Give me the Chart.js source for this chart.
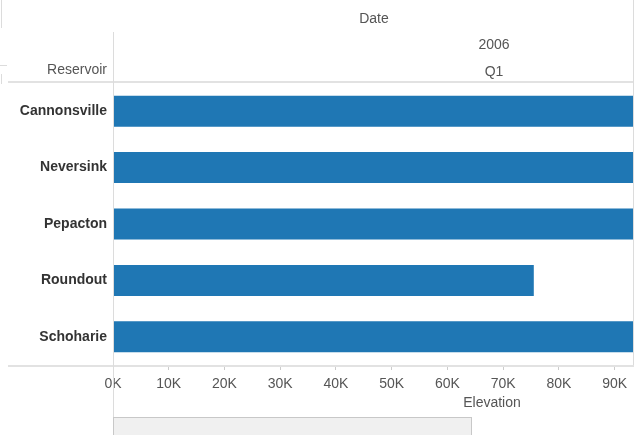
<!DOCTYPE html>
<html>
<head>
<meta charset="utf-8">
<script src="https://cdn.jsdelivr.net/npm/chart.js@4/dist/chart.umd.min.js"></script>
<style>
  html, body { margin: 0; padding: 0; background: #fff; }
  #wrap { width: 640px; height: 435px; position: relative; }
</style>
</head>
<body>
<div id="wrap"><canvas id="chart" width="640" height="435"></canvas></div>
<script>
// data (bars past 93K are cut off at the pane edge)
const reservoirs = ['Cannonsville', 'Neversink', 'Pepacton', 'Roundout', 'Schoharie'];
const elevation = [118000, 112000, 126000, 75500, 109000];
const axisMax = 93300;
const tickValues = [0, 10000, 20000, 30000, 40000, 50000, 60000, 70000, 80000, 90000];

const FONT = "'Liberation Sans', Arial, sans-serif";

// table lines and header text, drawn the way the workbook shows them
const tablePlugin = {
    id: 'table',
    afterDraw(chart) {
        const ctx = chart.ctx;
        const area = chart.chartArea;
        ctx.save();
        ctx.strokeStyle = '#e2e2e2';
        ctx.lineWidth = 2;
        // header rule and bottom rule
        ctx.beginPath();
        ctx.moveTo(8, 82); ctx.lineTo(634, 82);
        ctx.moveTo(8, area.bottom + 1); ctx.lineTo(634, area.bottom + 1);
        ctx.stroke();
        ctx.lineWidth = 1;
        ctx.strokeStyle = '#dcdcdc';
        ctx.beginPath();
        // row header divider
        ctx.moveTo(113.5, 32); ctx.lineTo(113.5, 435);
        // right pane edge
        ctx.moveTo(633.5, 0); ctx.lineTo(633.5, area.bottom);
        // small stray marks at the left edge
        ctx.moveTo(1.5, 0); ctx.lineTo(1.5, 28);
        ctx.moveTo(0, 65.5); ctx.lineTo(7, 65.5);
        ctx.moveTo(1.5, 74); ctx.lineTo(1.5, 84);
        ctx.stroke();

        // scrollbar
        ctx.fillStyle = '#f0f0f0';
        ctx.fillRect(114, 418, 358, 18);
        ctx.strokeStyle = '#c8c8c8';
        ctx.strokeRect(113.5, 417.5, 358, 20);

        // header text
        ctx.fillStyle = '#555';
        ctx.font = '14px ' + FONT;
        ctx.textBaseline = 'middle';
        ctx.textAlign = 'center';
        ctx.fillText('Date', 374, 19);
        ctx.fillText('2006', 494, 45);
        ctx.fillText('Q1', 494, 72);
        ctx.fillText('Elevation', 492, 403);
        ctx.textAlign = 'right';
        ctx.fillText('Reservoir', 107, 70);
        ctx.restore();
    }
};

const ctx = document.getElementById('chart').getContext('2d');
new Chart(ctx, {
    type: 'bar',
    data: {
        labels: reservoirs,
        datasets: [{
            label: 'Elevation',
            data: elevation,
            backgroundColor: '#1f77b4',
            borderWidth: 0,
            categoryPercentage: 1,
            barPercentage: 0.55
        }]
    },
    options: {
        indexAxis: 'y',
        responsive: false,
        animation: false,
        devicePixelRatio: 1,
        layout: {
            padding: { top: 83, right: 7, bottom: 18, left: 0 }
        },
        plugins: {
            legend: { display: false },
            tooltip: { enabled: false }
        },
        scales: {
            x: {
                min: 0,
                max: axisMax,
                afterFit: function(scale) { scale.height = 52; },
                afterBuildTicks: function(scale) {
                    scale.ticks = tickValues.map(v => ({ value: v }));
                },
                grid: {
                    drawOnChartArea: false,
                    tickLength: 5,
                    color: '#cccccc'
                },
                border: { display: false },
                ticks: {
                    maxRotation: 0,
                    autoSkip: false,
                    padding: 6,
                    color: '#555',
                    font: { family: FONT, size: 14 },
                    callback: function(value) {
                        return (value / 1000) + 'K';
                    }
                }
            },
            y: {
                afterFit: function(scale) { scale.width = 113; },
                grid: { display: false, drawTicks: false },
                border: { display: false },
                ticks: {
                    padding: 6,
                    color: '#333',
                    font: { family: FONT, size: 14, weight: 'bold' }
                }
            }
        }
    },
    plugins: [tablePlugin]
});
</script>
</body>
</html>
